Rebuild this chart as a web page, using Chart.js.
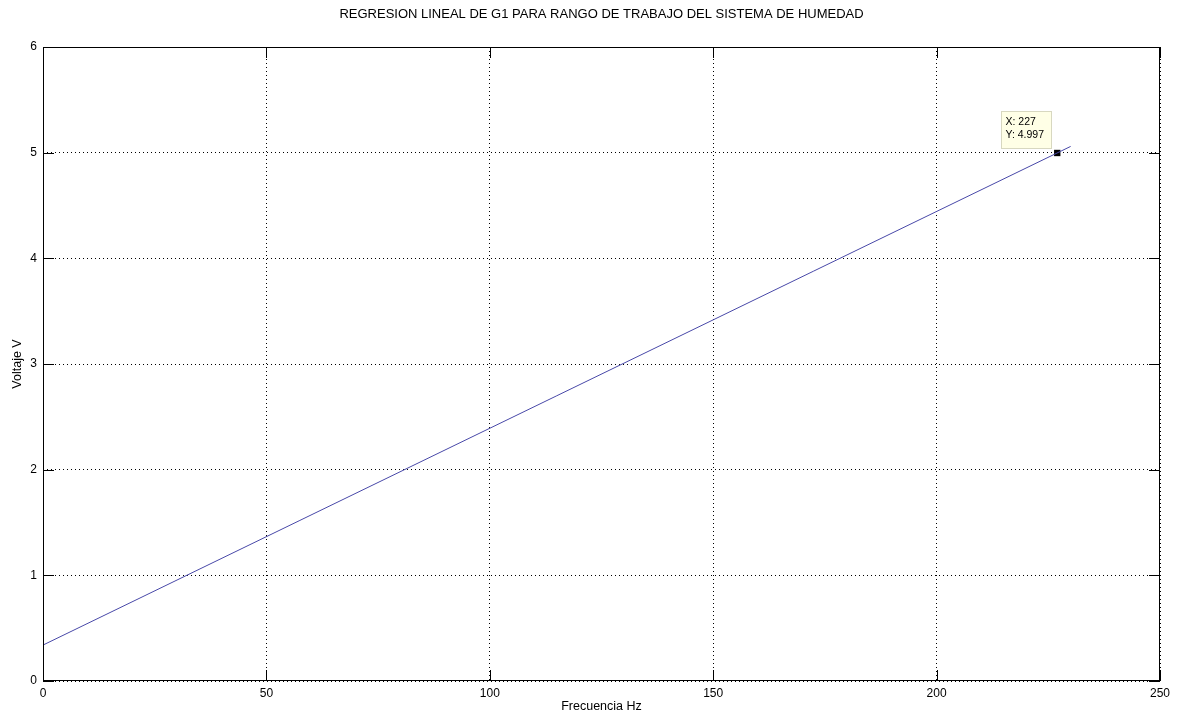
<!DOCTYPE html>
<html>
<head>
<meta charset="utf-8">
<script src="https://cdn.jsdelivr.net/npm/chart.js@4"></script>
<style>
html,body{margin:0;padding:0;background:#fff;}
#wrap{width:1178px;height:715px;}
</style>
</head>
<body>
<div id="wrap"><canvas id="c" width="1178" height="715"></canvas></div>
<script>
// Data
const titleText = 'REGRESION LINEAL DE G1 PARA RANGO DE TRABAJO DEL SISTEMA DE HUMEDAD';
const xLabel = 'Frecuencia Hz';
const yLabel = 'Voltaje V';
const freq = [0, 230];
const volt = [0.34, 5.059];
const tipX = [227];
const tipY = [4.997];
const xTicks = [0, 50, 100, 150, 200, 250];
const yTicks = [0, 1, 2, 3, 4, 5, 6];

const FONT = "'Liberation Sans', Arial, sans-serif";

const boxPlugin = {
  id: 'boxPlugin',
  afterDatasetsDraw(chart) {
    const {ctx, chartArea: a, scales} = chart;
    ctx.save();
    // title centred over the axes
    ctx.fillStyle = '#000';
    ctx.font = '13px ' + FONT;
    ctx.textAlign = 'center';
    ctx.textBaseline = 'middle';
    ctx.fillText(titleText, (a.left + a.right) / 2, 14);

    ctx.strokeStyle = '#000';
    ctx.lineWidth = 1;
    ctx.setLineDash([]);
    ctx.strokeRect(a.left + 0.5, a.top + 0.5, a.right - a.left - 1, a.bottom - a.top - 1);
    const TL = 11;
    ctx.beginPath();
    xTicks.forEach(v => {
      const px = Math.round(scales.x.getPixelForValue(v)) + 0.5;
      ctx.moveTo(px, a.bottom); ctx.lineTo(px, a.bottom - TL);
      ctx.moveTo(px, a.top); ctx.lineTo(px, a.top + TL);
    });
    yTicks.forEach(v => {
      const py = Math.round(scales.y.getPixelForValue(v)) + 0.5;
      ctx.moveTo(a.left, py); ctx.lineTo(a.left + TL, py);
      ctx.moveTo(a.right, py); ctx.lineTo(a.right - TL, py);
    });
    ctx.stroke();
    // data tip
    const px = scales.x.getPixelForValue(tipX[0]);
    const py = scales.y.getPixelForValue(tipY[0]);
    const bw = 50, bh = 37;
    const bx = Math.round(px - 6 - bw) + 0.5, by = Math.round(py - 5 - bh) + 0.5;
    ctx.fillStyle = '#ffffe6';
    ctx.fillRect(bx, by, bw, bh);
    ctx.strokeStyle = '#d8d8c0';
    ctx.strokeRect(bx, by, bw, bh);
    ctx.fillStyle = '#000';
    ctx.font = '10.5px ' + FONT;
    ctx.textBaseline = 'middle';
    ctx.textAlign = 'left';
    ctx.fillText('X: ' + tipX[0], bx + 4, by + 11);
    ctx.fillText('Y: ' + tipY[0].toFixed(3), bx + 4, by + 24);
    ctx.restore();
  }
};

new Chart(document.getElementById('c'), {
  type: 'scatter',
  data: {
    datasets: [
      {
        data: freq.map((x, i) => ({x, y: volt[i]})),
        showLine: true,
        borderColor: '#4848a8',
        borderWidth: 1,
        pointRadius: 0,
        fill: false
      },
      {
        data: tipX.map((x, i) => ({x, y: tipY[i]})),
        pointStyle: 'rect',
        pointRadius: 4.5,
        backgroundColor: '#000',
        borderColor: '#000',
        borderWidth: 0
      }
    ]
  },
  options: {
    responsive: false,
    animation: false,
    devicePixelRatio: 1,
    layout: {padding: {left: 0, right: 18, top: 47, bottom: 0}},
    plugins: {
      legend: {display: false},
      tooltip: {enabled: false},
      title: {display: false}
    },
    scales: {
      x: {
        type: 'linear',
        min: 0, max: 250,
        afterBuildTicks(s) { s.ticks = xTicks.map(v => ({value: v})); },
        afterFit(s) { s.height = 34; },
        border: {display: false, dash: [1, 3]},
        grid: {color: '#000', lineWidth: 1, drawTicks: false},
        ticks: {color: '#000', font: {family: FONT, size: 12}, padding: 5, maxRotation: 0},
        title: {display: true, text: xLabel, color: '#000', font: {family: FONT, size: 12.5}, padding: {top: 1, bottom: 1}}
      },
      y: {
        type: 'linear',
        min: 0, max: 6,
        afterBuildTicks(s) { s.ticks = yTicks.map(v => ({value: v})); },
        afterFit(s) { s.width = 43; },
        border: {display: false, dash: [1, 3]},
        grid: {color: '#000', lineWidth: 1, drawTicks: false},
        ticks: {color: '#000', font: {family: FONT, size: 12}, padding: 6},
        title: {display: true, text: yLabel, color: '#000', font: {family: FONT, size: 12.5}, padding: {top: 10, bottom: 3}}
      }
    }
  },
  plugins: [boxPlugin]
});
</script>
</body>
</html>
